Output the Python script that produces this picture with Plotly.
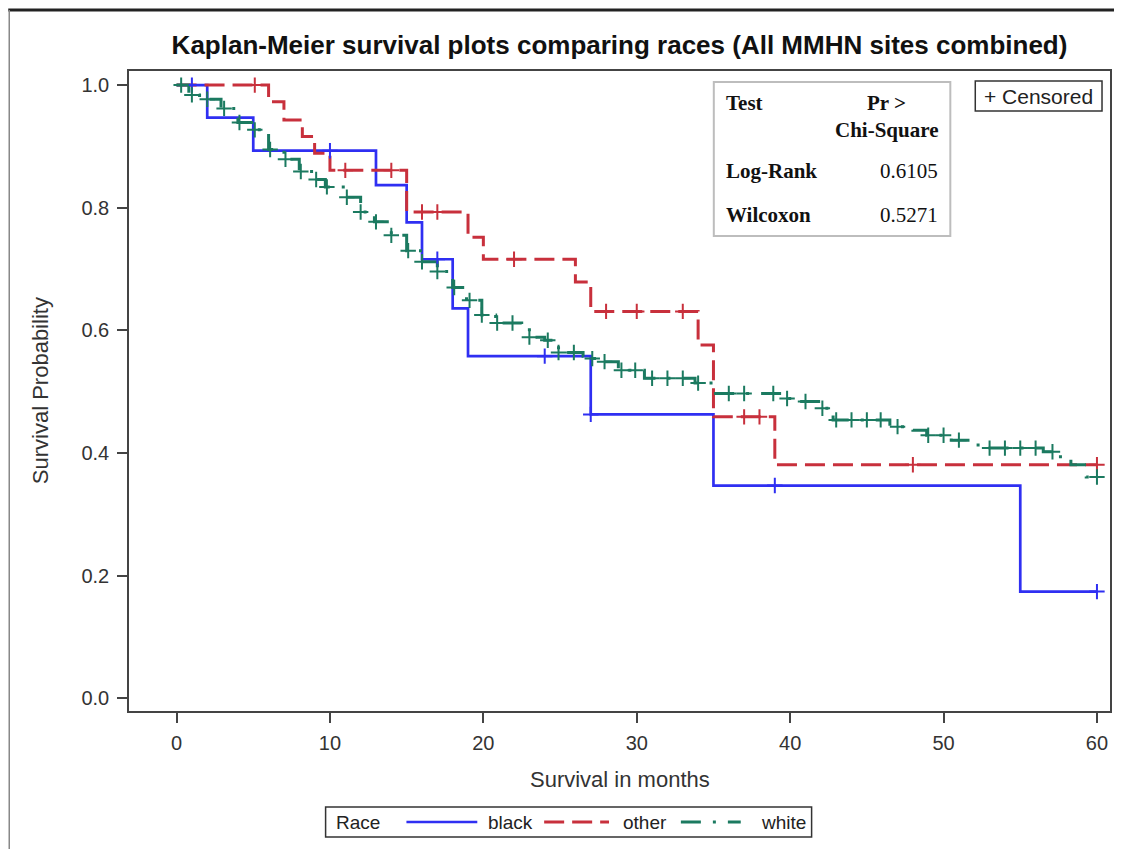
import numpy as np
import plotly.graph_objects as go

# ---------------- data ----------------
race_names = ["black", "other", "white"]
race_colors = ["#2f2ff2", "#c8303c", "#1b7a60"]
race_dash = ["solid", "20px,8px", "20px,12px,3px,12px"]
race_widths = [2.7, 3, 3]

black_t = [0, 2, 5, 13, 15, 16, 18, 19, 27, 35, 55, 60]
black_s = [1.0, 0.947, 0.893, 0.837, 0.776, 0.716, 0.636, 0.558, 0.463, 0.347, 0.174, 0.174]
black_cens = [1, 10, 17, 24, 27, 39, 60]

other_t = [0, 6, 7, 8.2, 9, 10, 15, 19, 20, 26, 27, 34, 35, 39, 60]
other_s = [1.0, 0.973, 0.943, 0.916, 0.889, 0.861, 0.793, 0.752, 0.716, 0.679, 0.631, 0.576, 0.459, 0.381, 0.381]
other_cens = [5.1, 11, 14, 16, 17, 22, 28, 30, 33, 37, 38, 48, 60]

white_t = [0, 0.8, 1.5, 2.9, 4, 5, 6, 7, 8, 9, 9.7, 11, 12, 12.9, 14, 15, 16, 17, 18,
           18.9, 19.9, 20.8, 22.5, 23, 24, 24.9, 26.5, 27, 27.8, 28.8, 30.5, 33.8, 35,
           39.5, 40.5, 42, 42.8, 46.5, 48, 48.9, 50.5, 52, 52.5, 56.5, 57.5, 58.3, 59.3, 60]
white_s = [1.0, 0.984, 0.977, 0.962, 0.939, 0.927, 0.895, 0.879, 0.859, 0.846, 0.834, 0.817,
           0.793, 0.777, 0.755, 0.730, 0.712, 0.696, 0.670, 0.649, 0.625, 0.612, 0.606, 0.589,
           0.584, 0.564, 0.558, 0.554, 0.549, 0.535, 0.522, 0.514, 0.497, 0.489, 0.484, 0.473,
           0.454, 0.443, 0.437, 0.429, 0.421, 0.413, 0.408, 0.402, 0.394, 0.381, 0.361, 0.361]
white_cens = [0.3, 1, 2, 3.1, 4.1, 5.1, 6.1, 7.1, 8.1, 9.1, 9.8, 11.1, 12, 13, 14, 15.1, 16,
              17, 18.1, 19.1, 19.9, 20.9, 21.9, 23, 24.2, 24.9, 25.9, 27.1, 27.9, 29, 29.9,
              31, 32, 33, 34, 36, 37, 38.9, 39.8, 41, 42.1, 43, 44, 45, 45.9, 47, 49, 50, 51,
              53, 54, 55, 56, 57.1, 60]

test_names = ["Log-Rank", "Wilcoxon"]
test_pvals = ["0.6105", "0.5271"]

x_ticks = [0, 10, 20, 30, 40, 50, 60]
y_ticks = [0.0, 0.2, 0.4, 0.6, 0.8, 1.0]

curves = [(black_t, black_s, black_cens), (other_t, other_s, other_cens), (white_t, white_s, white_cens)]

# ---------------- figure ----------------
# page has an 8px body margin: the figure starts at (8, 8) of the 1122x849 window
OFF = 8
W, H = 1122 - OFF, 849 - OFF
PL, PR, PT, PB = 129, 1112, 71, 711   # plot area in window pixels


def px(x):
    return (x - PL) / (PR - PL)


def py(y):
    return (PB - y) / (PB - PT)


fig = go.Figure()

for name, col, dash, lw, (t, s, c) in zip(race_names, race_colors, race_dash, race_widths, curves):
    fig.add_trace(go.Scatter(x=t, y=s, mode="lines", line=dict(color=col, width=lw, dash=dash, shape="hv"),
                             name=name, showlegend=False))
for name, col, (t, s, c) in zip(race_names, race_colors, curves):
    t_arr = np.array(t)
    s_arr = np.array(s)
    idx = np.searchsorted(t_arr, np.array(c), side="right") - 1
    fig.add_trace(go.Scatter(x=c, y=s_arr[idx], mode="markers",
                             marker=dict(symbol="cross-thin", size=11, line=dict(color=col, width=2)),
                             name=name + " censored", showlegend=False))

axis_common = dict(showline=True, linecolor="#444", linewidth=1.5, mirror=True, ticks="outside",
                   ticklen=10, tickwidth=1.5, tickcolor="#444", showgrid=False, zeroline=False,
                   tickfont=dict(family="Liberation Sans", size=20, color="#333"))

fig.update_layout(
    width=W, height=H,
    margin=dict(l=PL - OFF, r=1122 - PR, t=PT - OFF, b=849 - PB),
    paper_bgcolor="white", plot_bgcolor="white",
    title=dict(text="<b>Kaplan-Meier survival plots comparing races (All MMHN sites combined)</b>",
               x=0.5, xref="paper", xanchor="center", y=1 - (45 - OFF) / H, yref="container",
               yanchor="middle", font=dict(family="Liberation Sans", size=26, color="#111")),
    xaxis=dict(range=[-3.1, 60.85], tickvals=x_ticks, ticklabelstandoff=3, **axis_common),
    yaxis=dict(range=[-0.0207, 1.023], tickvals=y_ticks, tickformat=".1f", ticklabelstandoff=4,
               **axis_common),
)

shapes = []
annotations = []

# axis titles
annotations.append(dict(text="Survival in months", x=0.5, y=py(779), xref="paper", yref="paper",
                        showarrow=False, xanchor="center", yanchor="middle",
                        font=dict(family="Liberation Sans", size=22, color="#333")))
annotations.append(dict(text="Survival Probability", x=px(40), y=py(391), xref="paper", yref="paper",
                        showarrow=False, textangle=-90, xanchor="center", yanchor="middle",
                        font=dict(family="Liberation Sans", size=22, color="#333")))

# outer picture frame
shapes.append(dict(type="line", xref="paper", yref="paper", x0=px(8), x1=px(1122), y0=py(10), y1=py(10),
                   line=dict(color="#222", width=3)))
shapes.append(dict(type="line", xref="paper", yref="paper", x0=px(9), x1=px(9), y0=py(10), y1=py(849),
                   line=dict(color="#888", width=1.5)))

# statistics box
shapes.append(dict(type="rect", xref="paper", yref="paper", x0=px(715), x1=px(952), y0=py(82), y1=py(236),
                   line=dict(color="#bdbdbd", width=2), fillcolor="white"))
serif = "Liberation Serif"
fs = 21
annotations.append(dict(text="<b>Test</b>", x=px(725), y=py(103), xref="paper", yref="paper", showarrow=False,
                        xanchor="left", yanchor="middle", font=dict(family=serif, size=fs, color="#111")))
annotations.append(dict(text="<b>Pr ></b>", x=px(888), y=py(103), xref="paper", yref="paper", showarrow=False,
                        xanchor="center", yanchor="middle", font=dict(family=serif, size=fs, color="#111")))
annotations.append(dict(text="<b>Chi-Square</b>", x=px(942), y=py(130), xref="paper", yref="paper",
                        showarrow=False, xanchor="right", yanchor="middle",
                        font=dict(family=serif, size=fs, color="#111")))
for i, (nm, pv) in enumerate(zip(test_names, test_pvals)):
    yy = [171, 215][i]
    annotations.append(dict(text="<b>" + nm + "</b>", x=px(725), y=py(yy), xref="paper", yref="paper",
                            showarrow=False, xanchor="left", yanchor="middle",
                            font=dict(family=serif, size=fs, color="#111")))
    annotations.append(dict(text=pv, x=px(942), y=py(yy), xref="paper", yref="paper",
                            showarrow=False, xanchor="right", yanchor="middle",
                            font=dict(family=serif, size=fs, color="#111")))

# censored key
shapes.append(dict(type="rect", xref="paper", yref="paper", x0=px(977), x1=px(1104), y0=py(81), y1=py(111),
                   line=dict(color="#333", width=1.5), fillcolor="white"))
annotations.append(dict(text="+ Censored", x=px(1040), y=py(96), xref="paper", yref="paper", showarrow=False,
                        xanchor="center", yanchor="middle",
                        font=dict(family="Liberation Sans", size=21, color="#222")))

# bottom legend
shapes.append(dict(type="rect", xref="paper", yref="paper", x0=px(326), x1=px(813), y0=py(807), y1=py(837),
                   line=dict(color="#333", width=1.5), fillcolor="white"))
annotations.append(dict(text="Race", x=px(334), y=py(822), xref="paper", yref="paper", showarrow=False,
                        xanchor="left", yanchor="middle",
                        font=dict(family="Liberation Sans", size=19, color="#222")))
leg_line_x = [(407, 478), (545, 610), (682, 742)]
leg_text_x = [487, 622, 760]
for name, col, dash, lw, (lx0, lx1), tx in zip(race_names, race_colors, race_dash, race_widths, leg_line_x, leg_text_x):
    shapes.append(dict(type="line", xref="paper", yref="paper", x0=px(lx0), x1=px(lx1), y0=py(822), y1=py(822),
                       line=dict(color=col, width=lw, dash=dash)))
    annotations.append(dict(text=name, x=px(tx), y=py(822), xref="paper", yref="paper", showarrow=False,
                            xanchor="left", yanchor="middle",
                            font=dict(family="Liberation Sans", size=19, color="#222")))

fig.update_layout(shapes=shapes, annotations=annotations)
fig.write_html("out.html")
